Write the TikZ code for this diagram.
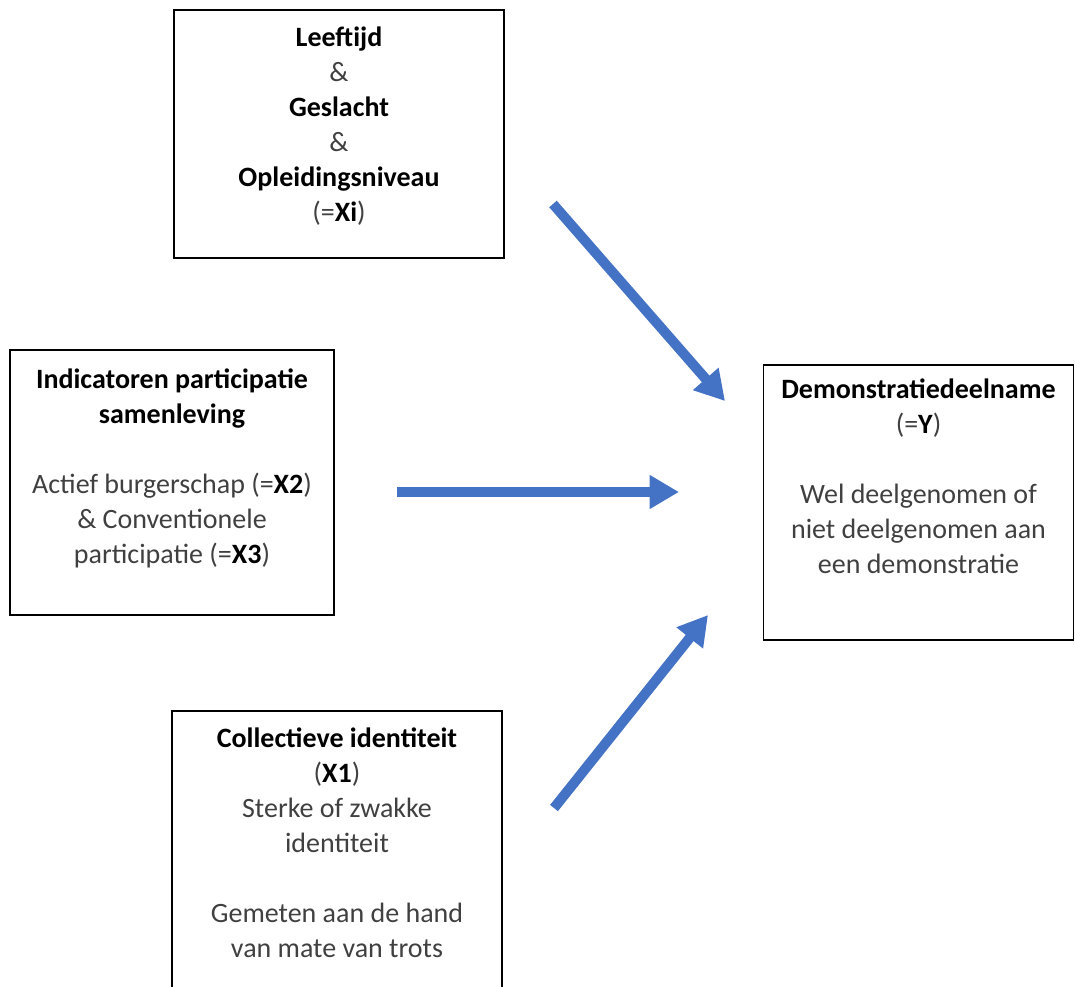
\documentclass[tikz,border=0pt]{standalone}
\usepackage{fontspec}
\setmainfont{Carlito}
\usepackage{tikz}
\usetikzlibrary{arrows.meta}
\definecolor{arrowblue}{HTML}{4472C4}

\begin{document}
\begin{tikzpicture}[
        x=0.75pt, y=-0.75pt,
        box/.style={
            rectangle,
            draw,
            line width=1.3pt,
            align=center,
            text=black!75,
            font=\fontsize{21pt}{26.25pt}\selectfont
        },
        arrow/.style={
            draw=arrowblue,
            line width=7.5pt,
            -{Triangle[length=22pt,width=24pt]}
        }
    ]
    \useasboundingbox (0,0) rectangle (1075,986);
    % Explanatory variables
    \node[box, minimum width=247.5pt, minimum height=186pt] (xi) at (339,134) {
        \textbf{\color{black}Leeftijd}\\ \&\\
        \textbf{\color{black}Geslacht}\\ \&\\
        \textbf{\color{black}Opleidingsniveau}\\ (=\textbf{\color{black}Xi})\\[-11pt]};
    \node[box, minimum width=243pt, minimum height=198.75pt] (x23) at (172,482.5) {
        \textbf{\color{black}Indicatoren participatie}\\
        \textbf{\color{black}samenleving}\\[26.25pt]
        Actief burgerschap (=\textbf{\color{black}X2})\\
        \& Conventionele\\
        participatie (=\textbf{\color{black}X3})\\[-2pt]};
    \node[box, minimum width=247.5pt, minimum height=210pt] (x1) at (337,851) {
        \textbf{\color{black}Collectieve identiteit}\\
        (\textbf{\color{black}X1})\\
        Sterke of zwakke\\
        identiteit\\[26.25pt]
        Gemeten aan de hand\\
        van mate van trots\\[-14pt]};
    % Dependent variable
    \node[box, minimum width=232.5pt, minimum height=206.25pt] (y) at (918.5,502.5) {
        \textbf{\color{black}Demonstratiedeelname}\\
        (=\textbf{\color{black}Y})\\[26.25pt]
        Wel deelgenomen of\\
        niet deelgenomen aan\\
        een demonstratie\\[13pt]};
    % Arrow ends
    \coordinate (xi_out) at (553,204);
    \coordinate (xi_in) at (725,401);
    \coordinate (x23_out) at (397,492);
    \coordinate (x23_in) at (679,492);
    \coordinate (x1_out) at (554,808);
    \coordinate (x1_in) at (708,615);
    % Effects on participation
    \draw[arrow] (xi_out) -- (xi_in);
    \draw[arrow] (x23_out) -- (x23_in);
    \draw[arrow] (x1_out) -- (x1_in);
\end{tikzpicture}
\end{document}
